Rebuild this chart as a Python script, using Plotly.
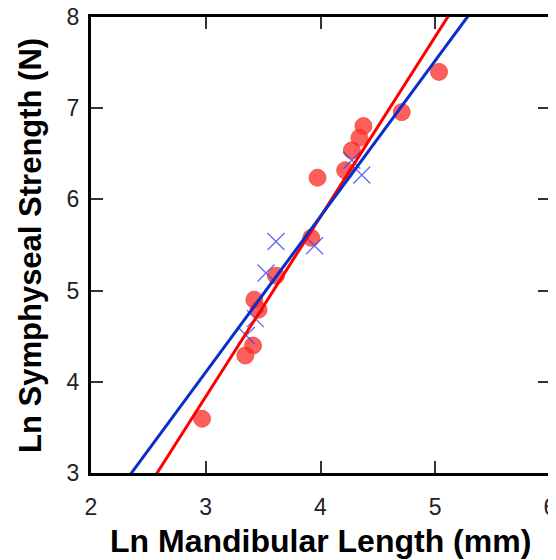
import plotly.graph_objects as go

# Red circle series
red_x = [2.968, 3.345, 3.412, 3.423, 3.460, 3.612, 3.919, 3.974, 4.215, 4.273, 4.339, 4.374, 4.708, 5.033]
red_y = [3.595, 4.288, 4.397, 4.900, 4.791, 5.163, 5.579, 6.238, 6.319, 6.538, 6.676, 6.804, 6.957, 7.398]

# Blue cross series
blue_x = [3.612, 3.948, 3.525, 3.432, 3.353, 4.273, 4.360]
blue_y = [5.538, 5.491, 5.193, 4.693, 4.507, 6.429, 6.268]

# Regression lines (slope, intercept)
red_fit = (1.974, -2.085)
blue_fit = (1.708, -1.018)

x_ticks = [2, 3, 4, 5, 6]
y_ticks = [3, 4, 5, 6, 7, 8]

x_title = "Ln Mandibular Length (mm)"
y_title = "Ln Symphyseal Strength (N)"

line_x = [2.0, 6.0]

fig = go.Figure()
fig.add_trace(go.Scatter(
    x=red_x, y=red_y, mode="markers",
    marker=dict(symbol="circle", size=17, color="rgba(255,40,40,0.75)",
                line=dict(color="rgba(230,80,40,0.8)", width=1)),
    showlegend=False))
fig.add_trace(go.Scatter(
    x=blue_x, y=blue_y, mode="markers",
    marker=dict(symbol="x-thin", size=17, color="rgba(60,70,240,0.8)",
                line=dict(color="rgba(60,70,240,0.8)", width=1.3)),
    showlegend=False))
fig.add_trace(go.Scatter(
    x=line_x, y=[red_fit[0] * v + red_fit[1] for v in line_x], mode="lines",
    line=dict(color="#ff0000", width=3), showlegend=False))
fig.add_trace(go.Scatter(
    x=line_x, y=[blue_fit[0] * v + blue_fit[1] for v in line_x], mode="lines",
    line=dict(color="#0a2ecc", width=3), showlegend=False))

axis_common = dict(
    showgrid=False, zeroline=False, showline=True, linecolor="black", linewidth=3,
    mirror="ticks", ticks="inside", ticklen=12, tickwidth=1.5, tickcolor="#333333",
    automargin=False, ticklabeloverflow="allow",
    tickfont=dict(family="Liberation Sans, Arial", size=23, color="#222222"),
)

fig.update_layout(
    width=548, height=552,
    margin=dict(l=83, r=6, t=9, b=87),
    plot_bgcolor="white", paper_bgcolor="white",
    xaxis=dict(range=[2, 6], tickvals=x_ticks, ticklabelstandoff=11, **axis_common),
    yaxis=dict(range=[3, 8], tickvals=y_ticks, ticklabelstandoff=4, **axis_common),
    annotations=[
        dict(text="<b>" + x_title + "</b>", xref="paper", yref="paper",
             x=0.5, y=-0.149, xanchor="center", yanchor="middle", showarrow=False,
             font=dict(family="Liberation Sans, Arial", size=32, color="black")),
        dict(text="<b>" + y_title + "</b>", xref="paper", yref="paper",
             x=-0.133, y=0.5, xanchor="center", yanchor="middle", showarrow=False,
             textangle=-90,
             font=dict(family="Liberation Sans, Arial", size=31, color="black")),
    ],
)

fig.write_html("out.html")
